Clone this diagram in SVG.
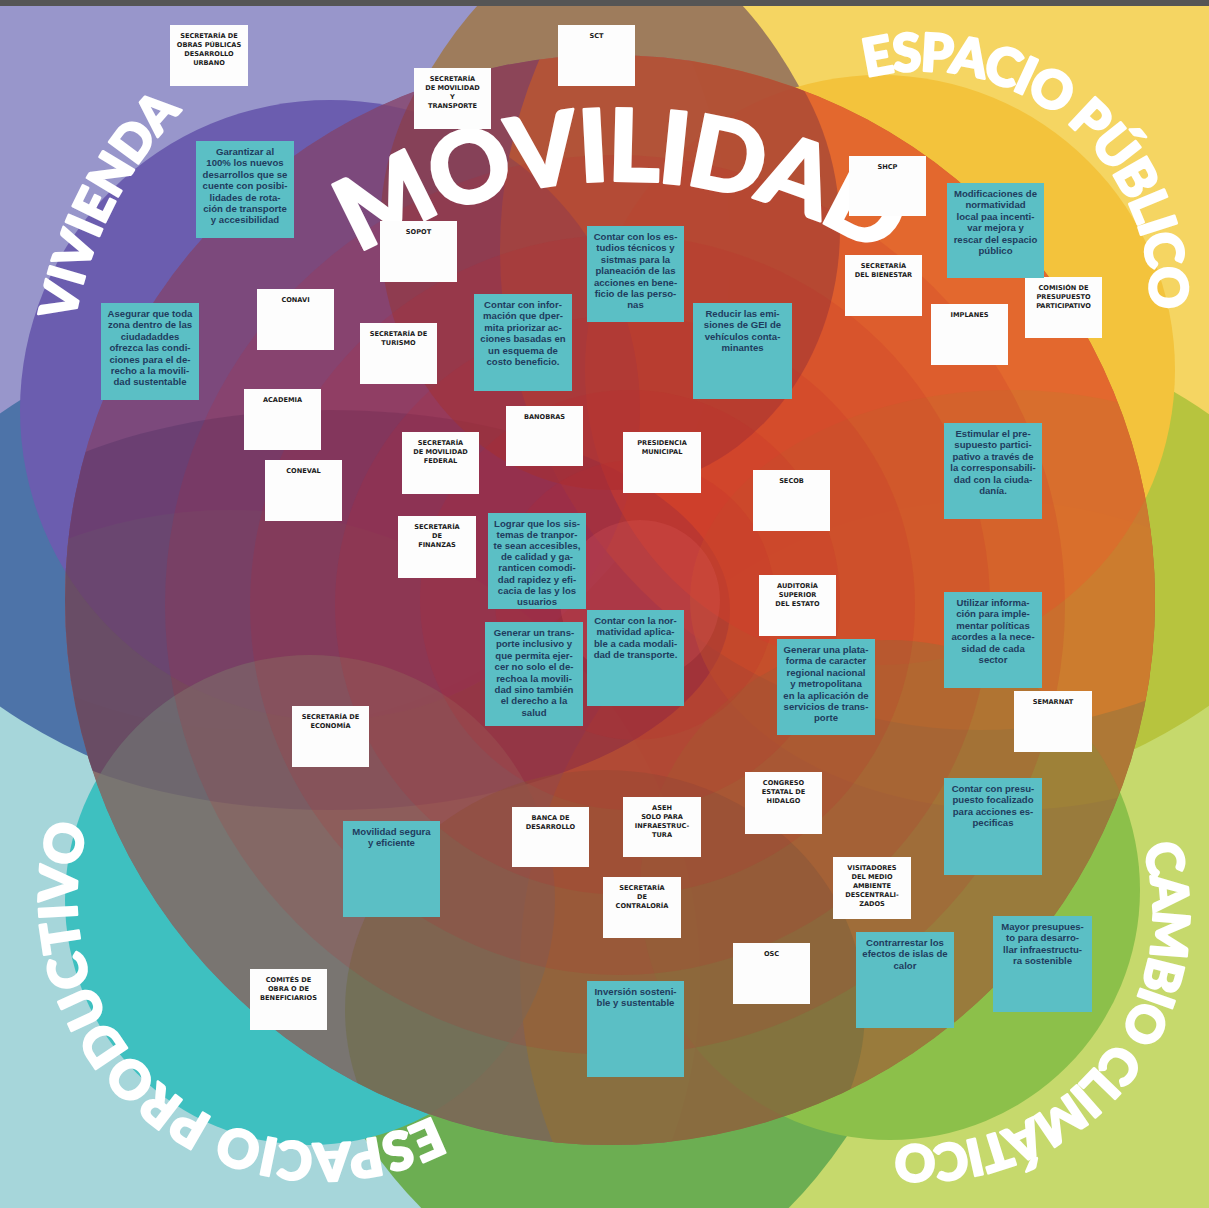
<svg xmlns="http://www.w3.org/2000/svg" width="1209" height="1208" viewBox="0 0 1209 1208">
<style>
.w{fill:#fdfdfd}
.t{fill:#5bbfc5}
.wt{font-family:"DejaVu Sans",sans-serif;font-weight:bold;font-size:6.6px;fill:#1a1a1a;text-anchor:middle}
.tt{font-family:"Liberation Sans",Arial,sans-serif;font-weight:bold;font-size:9.6px;fill:#1f3c5e;text-anchor:middle}
.big{font-family:Lato,"Liberation Sans",sans-serif;font-weight:900;fill:#fff;stroke:#fff;stroke-width:2.5;stroke-linejoin:round}
.ring{fill:#c0282c;opacity:.16}
</style>
<defs>
<clipPath id="cT"><rect x="0" y="0" width="1209" height="604"/></clipPath>
<clipPath id="cB"><rect x="0" y="604" width="1209" height="604"/></clipPath>
<clipPath id="cL"><rect x="0" y="0" width="605" height="1208"/></clipPath>
<clipPath id="cR"><rect x="605" y="0" width="604" height="1208"/></clipPath>
<clipPath id="cC"><circle cx="610" cy="600" r="545"/></clipPath>
<path id="pMov" d="M237.7,359.2 A499,499 0 0 1 1002.3,359.2"/>
<path id="pViv" d="M78.4,483.1 A405,405 0 0 1 314.8,19.2"/>
<path id="pEsp" d="M770.8,127.1 A229,229 0 0 1 1121.3,411.1"/>
<path id="pCam" d="M1084.2,749.5 A231,231 0 0 1 790.8,1104.1"/>
<path id="pPro" d="M503.3,1062.7 A245,245 0 0 1 127.7,748.6"/>
</defs>
<g id="background">
<rect width="1209" height="1208" fill="#9896cb"/>
<rect x="605" y="0" width="604" height="604" fill="#f5d562"/>
<rect x="0" y="604" width="605" height="604" fill="#a6d6da"/>
<rect x="605" y="604" width="604" height="604" fill="#c6d96c"/>
<ellipse cx="604" cy="560" rx="700" ry="290" fill="#4d73a8" clip-path="url(#cL)"/>
<ellipse cx="604" cy="560" rx="700" ry="290" fill="#b7c43e" clip-path="url(#cR)"/>
<ellipse cx="610" cy="604" rx="300" ry="667" fill="#9e7c5c" clip-path="url(#cT)"/>
<ellipse cx="605" cy="604" rx="380" ry="690" fill="#6cae52" clip-path="url(#cB)"/>
<circle cx="330" cy="410" r="310" fill="#6b5daf"/>
<circle cx="880" cy="370" r="295" fill="#f3c33c"/>
<circle cx="890" cy="890" r="250" fill="#8cc04a"/>
<circle cx="310" cy="900" r="245" fill="#3ec0c0"/>
<g clip-path="url(#cC)">
<circle cx="610" cy="600" r="545" fill="#86485c"/>
<circle cx="250" cy="250" r="480" fill="#8a5683" opacity=".85"/>
<circle cx="230" cy="980" r="470" fill="#86766f" opacity=".85"/>
<circle cx="990" cy="970" r="470" fill="#aa743a" opacity=".85"/>
<circle cx="980" cy="250" r="480" fill="#e8742d" opacity=".9"/>
<ellipse cx="330" cy="610" rx="400" ry="200" fill="#56365f" opacity=".6"/>
<ellipse cx="1010" cy="600" rx="320" ry="210" fill="#b8842e" opacity=".5"/>
<circle cx="330" cy="410" r="310" fill="#6c3e7c" opacity=".45"/>
<circle cx="880" cy="370" r="295" fill="#e8602a" opacity=".45"/>
<circle cx="890" cy="890" r="250" fill="#8e8a3a" opacity=".5"/>
<circle cx="310" cy="900" r="245" fill="#727a74" opacity=".6"/>
<ellipse cx="610" cy="230" rx="230" ry="260" fill="#8e3a3a" opacity=".55"/>
<ellipse cx="605" cy="1010" rx="260" ry="240" fill="#6e6c40" opacity=".5"/>
</g>
<circle class="ring" cx="615" cy="605" r="450"/>
<circle class="ring" cx="620" cy="605" r="370"/>
<circle class="ring" cx="625" cy="605" r="290"/>
<circle class="ring" cx="630" cy="600" r="210"/>
<circle class="ring" cx="635" cy="600" r="140"/>
<circle cx="640" cy="600" r="80" fill="#e05a5a" opacity=".25"/>
<rect x="0" y="0" width="1209" height="6" fill="#555"/>
</g>
<g id="titles">
<text class="big" font-size="100" letter-spacing="-3" stroke-width="4"><textPath href="#pMov" startOffset="50%" text-anchor="middle">MOVILIDAD</textPath></text>
<text class="big" font-size="50"><textPath href="#pViv" startOffset="50%" text-anchor="middle">VIVIENDA</textPath></text>
<text class="big" font-size="52" letter-spacing="-2"><textPath href="#pEsp" startOffset="50%" text-anchor="middle">ESPACIO PÚBLICO</textPath></text>
<text class="big" font-size="50" letter-spacing="-2"><textPath href="#pCam" startOffset="50%" text-anchor="middle">CAMBIO CLIMÁTICO</textPath></text>
<text class="big" font-size="52"><textPath href="#pPro" startOffset="50%" text-anchor="middle">ESPACIO PRODUCTIVO</textPath></text>
</g>
<g id="connectors"/>
<g id="nodes">
<g id="n-obras"><rect class="w" x="170" y="25" width="78" height="61"/><text class="wt" x="209" y="37.5"><tspan x="209">SECRETARÍA DE</tspan><tspan x="209" dy="9">OBRAS PÚBLICAS</tspan><tspan x="209" dy="9">DESARROLLO</tspan><tspan x="209" dy="9">URBANO</tspan></text></g>
<g id="n-sct"><rect class="w" x="558" y="25" width="77" height="61"/><text class="wt" x="596.5" y="37.5">SCT</text></g>
<g id="n-semot"><rect class="w" x="414" y="68" width="77" height="61"/><text class="wt" x="452.5" y="80.5"><tspan x="452.5">SECRETARÍA</tspan><tspan x="452.5" dy="9">DE MOVILIDAD</tspan><tspan x="452.5" dy="9">Y</tspan><tspan x="452.5" dy="9">TRANSPORTE</tspan></text></g>
<g id="n-sopot"><rect class="w" x="380" y="221" width="77" height="61"/><text class="wt" x="418.5" y="233.5">SOPOT</text></g>
<g id="n-shcp"><rect class="w" x="849" y="156" width="77" height="60"/><text class="wt" x="887.5" y="168.5">SHCP</text></g>
<g id="n-bienestar"><rect class="w" x="845" y="255" width="77" height="61"/><text class="wt" x="883.5" y="267.5"><tspan x="883.5">SECRETARÍA</tspan><tspan x="883.5" dy="9">DEL BIENESTAR</tspan></text></g>
<g id="n-comision"><rect class="w" x="1025" y="277" width="77" height="61"/><text class="wt" x="1063.5" y="289.5"><tspan x="1063.5">COMISIÓN DE</tspan><tspan x="1063.5" dy="9">PRESUPUESTO</tspan><tspan x="1063.5" dy="9">PARTICIPATIVO</tspan></text></g>
<g id="n-implanes"><rect class="w" x="931" y="304" width="77" height="61"/><text class="wt" x="969.5" y="316.5">IMPLANES</text></g>
<g id="n-conavi"><rect class="w" x="257" y="289" width="77" height="61"/><text class="wt" x="295.5" y="301.5">CONAVI</text></g>
<g id="n-turismo"><rect class="w" x="360" y="323" width="77" height="61"/><text class="wt" x="398.5" y="335.5"><tspan x="398.5">SECRETARÍA DE</tspan><tspan x="398.5" dy="9">TURISMO</tspan></text></g>
<g id="n-academia"><rect class="w" x="244" y="389" width="77" height="61"/><text class="wt" x="282.5" y="401.5">ACADEMIA</text></g>
<g id="n-coneval"><rect class="w" x="265" y="460" width="77" height="61"/><text class="wt" x="303.5" y="472.5">CONEVAL</text></g>
<g id="n-banobras"><rect class="w" x="506" y="406" width="77" height="60"/><text class="wt" x="544.5" y="418.5">BANOBRAS</text></g>
<g id="n-movfed"><rect class="w" x="402" y="432" width="77" height="62"/><text class="wt" x="440.5" y="444.5"><tspan x="440.5">SECRETARÍA</tspan><tspan x="440.5" dy="9">DE MOVILIDAD</tspan><tspan x="440.5" dy="9">FEDERAL</tspan></text></g>
<g id="n-presidencia"><rect class="w" x="623" y="432" width="78" height="61"/><text class="wt" x="662" y="444.5"><tspan x="662">PRESIDENCIA</tspan><tspan x="662" dy="9">MUNICIPAL</tspan></text></g>
<g id="n-secob"><rect class="w" x="753" y="470" width="77" height="61"/><text class="wt" x="791.5" y="482.5">SECOB</text></g>
<g id="n-finanzas"><rect class="w" x="398" y="516" width="78" height="62"/><text class="wt" x="437" y="528.5"><tspan x="437">SECRETARÍA</tspan><tspan x="437" dy="9">DE</tspan><tspan x="437" dy="9">FINANZAS</tspan></text></g>
<g id="n-auditoria"><rect class="w" x="759" y="575" width="77" height="61"/><text class="wt" x="797.5" y="587.5"><tspan x="797.5">AUDITORÍA</tspan><tspan x="797.5" dy="9">SUPERIOR</tspan><tspan x="797.5" dy="9">DEL ESTATO</tspan></text></g>
<g id="n-semarnat"><rect class="w" x="1014" y="691" width="78" height="61"/><text class="wt" x="1053" y="703.5">SEMARNAT</text></g>
<g id="n-economia"><rect class="w" x="292" y="706" width="77" height="61"/><text class="wt" x="330.5" y="718.5"><tspan x="330.5">SECRETARÍA DE</tspan><tspan x="330.5" dy="9">ECONOMÍA</tspan></text></g>
<g id="n-congreso"><rect class="w" x="745" y="772" width="77" height="62"/><text class="wt" x="783.5" y="784.5"><tspan x="783.5">CONGRESO</tspan><tspan x="783.5" dy="9">ESTATAL DE</tspan><tspan x="783.5" dy="9">HIDALGO</tspan></text></g>
<g id="n-banca"><rect class="w" x="512" y="807" width="77" height="60"/><text class="wt" x="550.5" y="819.5"><tspan x="550.5">BANCA DE</tspan><tspan x="550.5" dy="9">DESARROLLO</tspan></text></g>
<g id="n-aseh"><rect class="w" x="623" y="797" width="78" height="60"/><text class="wt" x="662" y="809.5"><tspan x="662">ASEH</tspan><tspan x="662" dy="9">SOLO PARA</tspan><tspan x="662" dy="9">INFRAESTRUC-</tspan><tspan x="662" dy="9">TURA</tspan></text></g>
<g id="n-visitadores"><rect class="w" x="833" y="857" width="78" height="62"/><text class="wt" x="872" y="869.5"><tspan x="872">VISITADORES</tspan><tspan x="872" dy="9">DEL MEDIO</tspan><tspan x="872" dy="9">AMBIENTE</tspan><tspan x="872" dy="9">DESCENTRALI-</tspan><tspan x="872" dy="9">ZADOS</tspan></text></g>
<g id="n-contraloria"><rect class="w" x="603" y="877" width="78" height="61"/><text class="wt" x="642" y="889.5"><tspan x="642">SECRETARÍA</tspan><tspan x="642" dy="9">DE</tspan><tspan x="642" dy="9">CONTRALORÍA</tspan></text></g>
<g id="n-osc"><rect class="w" x="733" y="943" width="77" height="61"/><text class="wt" x="771.5" y="955.5">OSC</text></g>
<g id="n-comites"><rect class="w" x="250" y="969" width="77" height="61"/><text class="wt" x="288.5" y="981.5"><tspan x="288.5">COMITÉS DE</tspan><tspan x="288.5" dy="9">OBRA O DE</tspan><tspan x="288.5" dy="9">BENEFICIARIOS</tspan></text></g>

<g id="o-garantizar"><rect class="t" x="196" y="141" width="98" height="97"/><text class="tt" x="245" y="155"><tspan x="245">Garantizar al</tspan><tspan x="245" dy="11.4">100% los nuevos</tspan><tspan x="245" dy="11.4">desarrollos que se</tspan><tspan x="245" dy="11.4">cuente con posibi-</tspan><tspan x="245" dy="11.4">lidades de rota-</tspan><tspan x="245" dy="11.4">ción de transporte</tspan><tspan x="245" dy="11.4">y accesibilidad</tspan></text></g>
<g id="o-asegurar"><rect class="t" x="101" y="303" width="98" height="97"/><text class="tt" x="150" y="317"><tspan x="150">Asegurar que toda</tspan><tspan x="150" dy="11.4">zona dentro de las</tspan><tspan x="150" dy="11.4">ciudadaddes</tspan><tspan x="150" dy="11.4">ofrezca las condi-</tspan><tspan x="150" dy="11.4">ciones para el de-</tspan><tspan x="150" dy="11.4">recho a la movili-</tspan><tspan x="150" dy="11.4">dad sustentable</tspan></text></g>
<g id="o-estudios"><rect class="t" x="587" y="226" width="97" height="96"/><text class="tt" x="635.5" y="240"><tspan x="635.5">Contar con los es-</tspan><tspan x="635.5" dy="11.4">tudios técnicos y</tspan><tspan x="635.5" dy="11.4">sistmas para la</tspan><tspan x="635.5" dy="11.4">planeación de las</tspan><tspan x="635.5" dy="11.4">acciones en bene-</tspan><tspan x="635.5" dy="11.4">ficio de las perso-</tspan><tspan x="635.5" dy="11.4">nas</tspan></text></g>
<g id="o-informacion"><rect class="t" x="474" y="294" width="98" height="97"/><text class="tt" x="523" y="308"><tspan x="523">Contar con infor-</tspan><tspan x="523" dy="11.4">mación que dper-</tspan><tspan x="523" dy="11.4">mita priorizar ac-</tspan><tspan x="523" dy="11.4">ciones basadas en</tspan><tspan x="523" dy="11.4">un esquema de</tspan><tspan x="523" dy="11.4">costo beneficio.</tspan></text></g>
<g id="o-reducir"><rect class="t" x="693" y="303" width="99" height="96"/><text class="tt" x="742.5" y="317"><tspan x="742.5">Reducir las emi-</tspan><tspan x="742.5" dy="11.4">siones de GEI de</tspan><tspan x="742.5" dy="11.4">vehículos conta-</tspan><tspan x="742.5" dy="11.4">minantes</tspan></text></g>
<g id="o-modificaciones"><rect class="t" x="947" y="183" width="97" height="95"/><text class="tt" x="995.5" y="197"><tspan x="995.5">Modificaciones de</tspan><tspan x="995.5" dy="11.4">normatividad</tspan><tspan x="995.5" dy="11.4">local paa incenti-</tspan><tspan x="995.5" dy="11.4">var mejora y</tspan><tspan x="995.5" dy="11.4">rescar del espacio</tspan><tspan x="995.5" dy="11.4">público</tspan></text></g>
<g id="o-estimular"><rect class="t" x="944" y="423" width="98" height="96"/><text class="tt" x="993" y="437"><tspan x="993">Estimular el pre-</tspan><tspan x="993" dy="11.4">supuesto partici-</tspan><tspan x="993" dy="11.4">pativo a través de</tspan><tspan x="993" dy="11.4">la corresponsabili-</tspan><tspan x="993" dy="11.4">dad con la ciuda-</tspan><tspan x="993" dy="11.4">danía.</tspan></text></g>
<g id="o-lograr"><rect class="t" x="488" y="513" width="98" height="96"/><text class="tt" x="537" y="526.5"><tspan x="537">Lograr que los sis-</tspan><tspan x="537" dy="11.2">temas de tranpor-</tspan><tspan x="537" dy="11.2">te sean accesibles,</tspan><tspan x="537" dy="11.2">de calidad y ga-</tspan><tspan x="537" dy="11.2">ranticen comodi-</tspan><tspan x="537" dy="11.2">dad rapidez y efi-</tspan><tspan x="537" dy="11.2">cacia de las y los</tspan><tspan x="537" dy="11.2">usuarios</tspan></text></g>
<g id="o-utilizar"><rect class="t" x="944" y="592" width="98" height="96"/><text class="tt" x="993" y="606"><tspan x="993">Utilizar informa-</tspan><tspan x="993" dy="11.4">ción para imple-</tspan><tspan x="993" dy="11.4">mentar políticas</tspan><tspan x="993" dy="11.4">acordes a la nece-</tspan><tspan x="993" dy="11.4">sidad de cada</tspan><tspan x="993" dy="11.4">sector</tspan></text></g>
<g id="o-plataforma"><rect class="t" x="777" y="639" width="98" height="96"/><text class="tt" x="826" y="653"><tspan x="826">Generar una plata-</tspan><tspan x="826" dy="11.4">forma de caracter</tspan><tspan x="826" dy="11.4">regional nacional</tspan><tspan x="826" dy="11.4">y metropolitana</tspan><tspan x="826" dy="11.4">en la aplicación de</tspan><tspan x="826" dy="11.4">servicios de trans-</tspan><tspan x="826" dy="11.4">porte</tspan></text></g>
<g id="o-transporte"><rect class="t" x="485" y="622" width="98" height="104"/><text class="tt" x="534" y="636"><tspan x="534">Generar un trans-</tspan><tspan x="534" dy="11.4">porte inclusivo y</tspan><tspan x="534" dy="11.4">que permita ejer-</tspan><tspan x="534" dy="11.4">cer no solo el de-</tspan><tspan x="534" dy="11.4">rechoa la movili-</tspan><tspan x="534" dy="11.4">dad sino también</tspan><tspan x="534" dy="11.4">el derecho a la</tspan><tspan x="534" dy="11.4">salud</tspan></text></g>
<g id="o-normatividad"><rect class="t" x="587" y="610" width="97" height="96"/><text class="tt" x="635.5" y="624"><tspan x="635.5">Contar con la nor-</tspan><tspan x="635.5" dy="11.4">matividad aplica-</tspan><tspan x="635.5" dy="11.4">ble a cada modali-</tspan><tspan x="635.5" dy="11.4">dad de transporte.</tspan></text></g>
<g id="o-segura"><rect class="t" x="343" y="821" width="97" height="96"/><text class="tt" x="391.5" y="835"><tspan x="391.5">Movilidad segura</tspan><tspan x="391.5" dy="11.4">y eficiente</tspan></text></g>
<g id="o-presupuesto"><rect class="t" x="944" y="778" width="98" height="97"/><text class="tt" x="993" y="792"><tspan x="993">Contar con presu-</tspan><tspan x="993" dy="11.4">puesto focalizado</tspan><tspan x="993" dy="11.4">para acciones es-</tspan><tspan x="993" dy="11.4">pecificas</tspan></text></g>
<g id="o-mayor"><rect class="t" x="993" y="916" width="99" height="96"/><text class="tt" x="1042.5" y="930"><tspan x="1042.5">Mayor presupues-</tspan><tspan x="1042.5" dy="11.4">to para desarro-</tspan><tspan x="1042.5" dy="11.4">llar infraestructu-</tspan><tspan x="1042.5" dy="11.4">ra sostenible</tspan></text></g>
<g id="o-contrarrestar"><rect class="t" x="856" y="932" width="98" height="96"/><text class="tt" x="905" y="946"><tspan x="905">Contrarrestar los</tspan><tspan x="905" dy="11.4">efectos de islas de</tspan><tspan x="905" dy="11.4">calor</tspan></text></g>
<g id="o-inversion"><rect class="t" x="587" y="981" width="97" height="96"/><text class="tt" x="635.5" y="995"><tspan x="635.5">Inversión sosteni-</tspan><tspan x="635.5" dy="11.4">ble y sustentable</tspan></text></g>
</g>
</svg>
